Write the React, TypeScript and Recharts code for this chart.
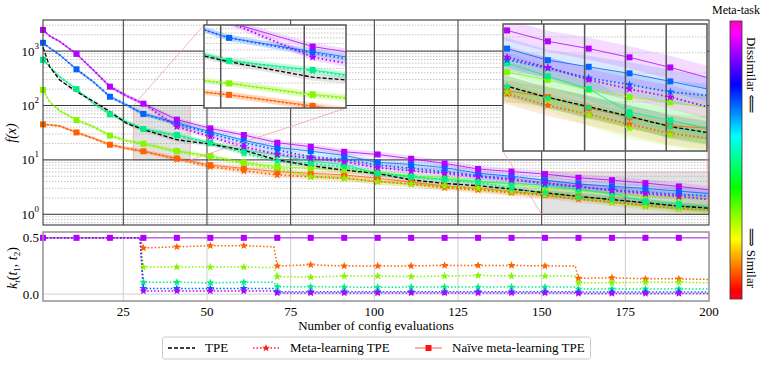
import React from "react";
import {
  Area,
  CartesianGrid,
  ComposedChart,
  Line,
  ReferenceArea,
  ReferenceLine,
  XAxis,
  YAxis,
} from "recharts";

const FONT = "Liberation Serif, DejaVu Serif, serif";

// ---- top panel: best f(x) so far, read at these evaluation counts ----
const X_MAIN = [1, 3, 6, 11, 16, 21, 26, 31, 41, 51, 61, 71, 81, 91, 101, 111, 121, 131, 141, 151, 161, 171, 181, 191, 200];

const TPE = [1180, 515, 294, 180, 120, 77, 47, 36, 23.5, 19.5, 15, 10, 7.8, 6.5, 5.6, 4.3, 3.7, 3.35, 2.92, 2.49, 2.13, 1.87, 1.63, 1.41, 1.3];

const NAIVE_PURPLE = [2450, 1900, 1500, 890, 450, 222, 150, 108, 55, 38, 28.7, 20.7, 17.5, 14.1, 12.6, 10.5, 8.6, 6.8, 6.1, 5.48, 4.7, 4.24, 3.75, 3.25, 2.82];
const META_PURPLE = [2450, 1900, 1500, 890, 450, 222, 150, 108, 41, 26.7, 17.5, 12.6, 10.7, 9.3, 7.2, 6.3, 5.66, 4.9, 4.3, 3.76, 3.25, 2.73, 2.4, 2.14, 1.87];
const NAIVE_BLUE = [1420, 1140, 850, 463, 273, 145, 102, 70, 47.7, 33, 23, 17, 14.5, 12.1, 9.0, 8.3, 7.2, 5.7, 5.0, 4.24, 3.6, 3.28, 2.99, 2.67, 2.4];
const META_BLUE = [1420, 1140, 850, 463, 273, 145, 102, 70, 46, 30.6, 20.7, 15.2, 11.4, 10.2, 8.0, 7.0, 6.1, 5.1, 4.5, 3.62, 3.22, 2.8, 2.55, 2.3, 2.19];
const NAIVE_SPRING = [690, 515, 337, 200, 110, 69, 50, 37, 28.7, 20.7, 15.2, 12.3, 9.5, 8.2, 5.6, 4.9, 4.4, 4.0, 3.7, 3.46, 2.87, 2.4, 1.73, 1.54, 1.38];
const META_SPRING = [690, 515, 337, 200, 110, 69, 50, 37, 28, 20.2, 13.2, 9.5, 8.6, 7.5, 5.66, 5.0, 4.27, 3.87, 3.0, 2.49, 2.11, 1.85, 1.63, 1.41, 1.28];
const NAIVE_LIME = [193, 117, 80, 54, 41, 28, 22.5, 19.8, 14.6, 11.8, 9.0, 7.5, 7.0, 6.5, 5.9, 5.05, 4.8, 3.97, 3.6, 3.04, 2.73, 2.37, 2.14, 1.99, 1.85];
const META_LIME = [193, 117, 80, 54, 41, 28, 22.5, 19.8, 14.2, 11.4, 8.6, 7.0, 4.9, 4.6, 4.0, 3.6, 3.3, 3.0, 2.6, 2.3, 2.05, 1.66, 1.38, 1.26, 1.12];
const NAIVE_ORANGE = [45, 44, 42, 32, 25, 19, 16.3, 14.4, 10.6, 8.0, 7.0, 6.1, 5.66, 5.3, 4.6, 3.9, 3.3, 3.0, 2.6, 2.34, 2.14, 1.83, 1.61, 1.43, 1.38];
const META_ORANGE = [45, 44, 42, 32, 25, 19, 16.3, 14.4, 10.4, 7.5, 6.3, 5.3, 4.9, 4.6, 4.0, 3.6, 3.1, 2.8, 2.5, 2.24, 1.9, 1.68, 1.46, 1.28, 1.2];

// multiplicative half-width of the shaded bands
const BAND = [1.03, 1.04, 1.05, 1.06, 1.07, 1.08, 1.08, 1.09, 1.1, 1.1, 1.11, 1.12, 1.12, 1.13, 1.13, 1.14, 1.14, 1.15, 1.15, 1.16, 1.16, 1.17, 1.17, 1.18, 1.18];

// ---- bottom panel: task kernel k_t(t1, t2) ----
const X_K = [1, 11, 21, 30, 31, 41, 51, 61, 70, 71, 81, 91, 101, 111, 121, 131, 141, 151, 160, 161, 171, 181, 191, 200];
const K_NAIVE = [0.5, 0.5, 0.5, 0.5, 0.5, 0.5, 0.5, 0.5, 0.5, 0.5, 0.5, 0.5, 0.5, 0.5, 0.5, 0.5, 0.5, 0.5, 0.5, 0.5, 0.5, 0.5, 0.5, 0.5];
const K_ORANGE = [0.5, 0.5, 0.5, 0.5, 0.41, 0.42, 0.43, 0.43, 0.42, 0.25, 0.26, 0.25, 0.25, 0.25, 0.255, 0.255, 0.255, 0.25, 0.25, 0.14, 0.145, 0.135, 0.135, 0.13];
const K_LIME = [0.5, 0.5, 0.5, 0.5, 0.24, 0.24, 0.24, 0.24, 0.235, 0.155, 0.15, 0.16, 0.16, 0.155, 0.16, 0.165, 0.16, 0.16, 0.16, 0.1, 0.1, 0.105, 0.105, 0.1];
const K_SPRING = [0.5, 0.5, 0.5, 0.5, 0.105, 0.105, 0.1, 0.105, 0.105, 0.065, 0.065, 0.062, 0.06, 0.062, 0.062, 0.062, 0.062, 0.062, 0.062, 0.045, 0.045, 0.045, 0.045, 0.045];
const K_BLUE = [0.5, 0.5, 0.5, 0.5, 0.05, 0.05, 0.05, 0.05, 0.05, 0.02, 0.02, 0.02, 0.02, 0.02, 0.02, 0.02, 0.02, 0.02, 0.02, 0.018, 0.018, 0.018, 0.018, 0.018];
const K_PURPLE = [0.5, 0.5, 0.5, 0.5, 0.028, 0.028, 0.028, 0.028, 0.028, 0.01, 0.01, 0.01, 0.01, 0.01, 0.01, 0.01, 0.01, 0.01, 0.01, 0.005, 0.005, 0.005, 0.005, 0.005];

const X_TICKS = [25, 50, 75, 100, 125, 150, 175, 200];
const MAIN_Y_TICKS = [0.7, 0.8, 0.9, 1, 2, 3, 4, 5, 6, 7, 8, 9, 10, 20, 30, 40, 50, 60, 70, 80, 90, 100, 200, 300, 400, 500, 600, 700, 800, 900, 1000, 2000, 3000];
const DECADES = [1, 10, 100, 1000];

// meta-tasks, from similar (orange) to dissimilar (purple)
const META = [
  { id: "orange", color: "#ff6100", naive: NAIVE_ORANGE, meta: META_ORANGE, k: K_ORANGE },
  { id: "lime", color: "#86f500", naive: NAIVE_LIME, meta: META_LIME, k: K_LIME },
  { id: "spring", color: "#00ee88", naive: NAIVE_SPRING, meta: META_SPRING, k: K_SPRING },
  { id: "blue", color: "#0064ff", naive: NAIVE_BLUE, meta: META_BLUE, k: K_BLUE },
  { id: "purple", color: "#b300ff", naive: NAIVE_PURPLE, meta: META_PURPLE, k: K_PURPLE },
];

const mainRows = X_MAIN.map((x, i) => {
  const row: Record<string, any> = { x, tpe: TPE[i], tpeBand: [TPE[i] / BAND[i], TPE[i] * BAND[i]] };
  META.forEach((m) => {
    row[`n_${m.id}`] = m.naive[i];
    row[`m_${m.id}`] = m.meta[i];
    row[`nb_${m.id}`] = [m.naive[i] / BAND[i], m.naive[i] * BAND[i]];
    row[`mb_${m.id}`] = [m.meta[i] / BAND[i], m.meta[i] * BAND[i]];
  });
  return row;
});

const kRows = X_K.map((x, i) => {
  const row: Record<string, any> = { x, naive: K_NAIVE[i] };
  META.forEach((m) => {
    row[`k_${m.id}`] = m.k[i];
  });
  return row;
});

// layout
const PLOT_L = 43;
const PLOT_R = 709;
const MAIN_TOP = 20;
const MAIN_BOT = 225;
const Y_MIN = 0.636;
const Y_MAX = 3730;
const K_TOP = 232;
const K_BOT = 301;

const INSETS = [
  { left: 204, top: 25, width: 142, height: 83, x: [28, 45], y: [10, 100], v: [30, 40], h: [20, 30, 40, 50, 60, 70, 80, 90] },
  { left: 503, top: 24, width: 204, height: 127, x: [150, 200], y: [1, 6], v: [160, 170, 180, 190], h: [2, 3, 4, 5] },
];

const px = (x: number) => PLOT_L + ((x - 1) / 199) * (PLOT_R - PLOT_L);
const py = (v: number) =>
  MAIN_TOP + ((Math.log10(Y_MAX) - Math.log10(v)) / (Math.log10(Y_MAX) - Math.log10(Y_MIN))) * (MAIN_BOT - MAIN_TOP);

function starPoints(cx: number, cy: number, R: number) {
  const pts: string[] = [];
  for (let i = 0; i < 10; i++) {
    const a = -Math.PI / 2 + (i * Math.PI) / 5;
    const r = i % 2 === 0 ? R : R * 0.42;
    pts.push(`${cx + r * Math.cos(a)},${cy + r * Math.sin(a)}`);
  }
  return pts.join(" ");
}

function squareDot(color: string, minX = 1, size = 6) {
  return (p: any) => {
    const { cx, cy, payload, index } = p;
    const key = `sq-${color}-${index}`;
    if (cx == null || cy == null || payload.x % 10 !== 1 || payload.x < minX) return <g key={key} />;
    return <rect key={key} x={cx - size / 2} y={cy - size / 2} width={size} height={size} fill={color} />;
  };
}

function starDot(color: string, minX: number, R = 4.4) {
  return (p: any) => {
    const { cx, cy, payload, index } = p;
    const key = `st-${color}-${index}`;
    if (cx == null || cy == null || payload.x % 10 !== 1 || payload.x < minX) return <g key={key} />;
    return <polygon key={key} points={starPoints(cx, cy, R)} fill={color} />;
  };
}

function mainSeries() {
  const els: React.ReactElement[] = [];
  META.forEach((m) => {
    els.push(
      <Area key={`nb-${m.id}`} dataKey={`nb_${m.id}`} stroke="none" fill={m.color} fillOpacity={0.14} isAnimationActive={false} activeDot={false} />,
      <Area key={`mb-${m.id}`} dataKey={`mb_${m.id}`} stroke="none" fill={m.color} fillOpacity={0.14} isAnimationActive={false} activeDot={false} />
    );
  });
  els.push(
    <Area key="tb" dataKey="tpeBand" stroke="none" fill="#777" fillOpacity={0.2} isAnimationActive={false} activeDot={false} />
  );
  META.forEach((m) => {
    els.push(
      <Line key={`n-${m.id}`} dataKey={`n_${m.id}`} stroke={m.color} strokeOpacity={0.8} strokeWidth={1} dot={squareDot(m.color)} activeDot={false} isAnimationActive={false} />,
      <Line key={`m-${m.id}`} dataKey={`m_${m.id}`} stroke={m.color} strokeWidth={1.8} strokeDasharray="1.5 2.5" dot={starDot(m.color, 41)} activeDot={false} isAnimationActive={false} />
    );
  });
  els.push(
    <Line key="tpe" dataKey="tpe" stroke="#000" strokeWidth={1.3} strokeDasharray="4 2" dot={false} activeDot={false} isAnimationActive={false} />
  );
  return els;
}

const PowerTick = (p: any) => {
  const { x, y, payload } = p;
  const e = Math.log10(payload.value);
  if (Math.abs(e - Math.round(e)) > 1e-6) return <g />;
  return (
    <text x={x} y={y} dy={4.5} textAnchor="end" fontSize={13} style={{ fontFamily: FONT }} fill="#000">
      10
      <tspan dy={-7} fontSize={9}>
        {Math.round(e)}
      </tspan>
    </text>
  );
};

function MainChart() {
  return (
    <ComposedChart width={764} height={230} data={mainRows} margin={{ top: MAIN_TOP, right: 764 - PLOT_R, bottom: 5, left: 5 }}>
      <CartesianGrid vertical={false} stroke="#c4c4c4" strokeDasharray="1.5 1.5" />
      <XAxis type="number" dataKey="x" domain={[1, 200]} hide />
      <YAxis
        type="number"
        scale="log"
        domain={[Y_MIN, Y_MAX]}
        allowDataOverflow
        ticks={MAIN_Y_TICKS}
        interval={0}
        width={38}
        tickLine={false}
        axisLine={false}
        tickSize={0}
        tickMargin={4}
        tick={(p: any) => <PowerTick {...p} />}
      />
      {X_TICKS.slice(0, -1).map((t) => (
        <ReferenceLine key={`v${t}`} x={t} stroke="#3a3a3a" strokeWidth={1} />
      ))}
      {DECADES.map((d) => (
        <ReferenceLine key={`h${d}`} y={d} stroke="#3a3a3a" strokeWidth={1} />
      ))}
      {INSETS.map((s, i) => (
        <ReferenceArea key={`ra${i}`} x1={s.x[0]} x2={s.x[1]} y1={s.y[0]} y2={s.y[1]} fill="#a0a0a0" fillOpacity={0.3} stroke="#f3a3a3" strokeWidth={0.8} />
      ))}
      {mainSeries()}
    </ComposedChart>
  );
}

function InsetChart({ s }: { s: (typeof INSETS)[number] }) {
  return (
    <div style={{ position: "absolute", left: s.left, top: s.top, width: s.width, height: s.height, background: "#fff" }}>
      <ComposedChart width={s.width} height={s.height} data={mainRows} margin={{ top: 0, right: 0, bottom: 0, left: 0 }}>
        <XAxis type="number" dataKey="x" domain={s.x} allowDataOverflow hide />
        <YAxis type="number" scale="log" domain={s.y} allowDataOverflow hide />
        {s.h.map((t) => (
          <ReferenceLine key={`h${t}`} y={t} stroke="#c4c4c4" strokeDasharray="1.5 1.5" />
        ))}
        {s.v.map((t) => (
          <ReferenceLine key={`v${t}`} x={t} stroke="#555" strokeWidth={1.5} />
        ))}
        {mainSeries()}
      </ComposedChart>
    </div>
  );
}

const axisText = { fontSize: 13, fill: "#000", style: { fontFamily: FONT } };

function KernelChart() {
  return (
    <ComposedChart width={764} height={110} data={kRows} margin={{ top: K_TOP - 226, right: 764 - PLOT_R, bottom: 0, left: 5 }}>
      <CartesianGrid stroke="#cfcfcf" strokeWidth={1} />
      <XAxis
        type="number"
        dataKey="x"
        domain={[1, 200]}
        ticks={X_TICKS}
        interval={0}
        height={336 - K_BOT}
        tickLine={false}
        axisLine={false}
        tickSize={0}
        tickMargin={6}
        tick={axisText}
      />
      <YAxis
        type="number"
        domain={[-0.062, 0.552]}
        allowDataOverflow
        ticks={[0, 0.5]}
        interval={0}
        width={38}
        tickLine={false}
        axisLine={false}
        tickSize={0}
        tickMargin={4}
        tickFormatter={(v: number) => v.toFixed(1)}
        tick={axisText}
      />
      {META.map((m) => (
        <Line key={`k-${m.id}`} dataKey={`k_${m.id}`} stroke={m.color} strokeWidth={1.5} strokeDasharray="1.5 2" dot={starDot(m.color, 31, 4.2)} activeDot={false} isAnimationActive={false} />
      ))}
      <Line dataKey="naive" stroke="#b300ff" strokeOpacity={0.85} strokeWidth={1} dot={squareDot("#b300ff")} activeDot={false} isAnimationActive={false} />
    </ComposedChart>
  );
}

function Overlay() {
  const pink = "#f3a3a3";
  const [a, b] = INSETS;
  return (
    <svg width={764} height={365} style={{ position: "absolute", left: 0, top: 0, pointerEvents: "none", fontFamily: FONT }}>
      <defs>
        <linearGradient id="cbar" x1="0" y1="0" x2="0" y2="1">
          <stop offset="0%" stopColor="#ff00bf" />
          <stop offset="4.6%" stopColor="#ff00ff" />
          <stop offset="23%" stopColor="#0000ff" />
          <stop offset="41.4%" stopColor="#00ffff" />
          <stop offset="60%" stopColor="#00ff00" />
          <stop offset="78.5%" stopColor="#ffff00" />
          <stop offset="97%" stopColor="#ff0000" />
          <stop offset="100%" stopColor="#ff0029" />
        </linearGradient>
      </defs>

      {/* inset connectors */}
      <line x1={px(a.x[0])} y1={py(a.y[1])} x2={a.left} y2={a.top} stroke={pink} strokeWidth={0.8} />
      <line x1={px(a.x[1])} y1={py(a.y[0])} x2={a.left + a.width} y2={a.top + a.height} stroke={pink} strokeWidth={0.8} />
      <line x1={px(b.x[0])} y1={py(b.y[0])} x2={b.left} y2={b.top + b.height} stroke={pink} strokeWidth={0.8} />
      <line x1={px(b.x[1])} y1={py(b.y[0])} x2={b.left + b.width} y2={b.top + b.height} stroke={pink} strokeWidth={0.8} />

      {/* frames */}
      <rect x={PLOT_L} y={MAIN_TOP} width={PLOT_R - PLOT_L} height={MAIN_BOT - MAIN_TOP} fill="none" stroke="#333" strokeWidth={1} />
      <rect x={PLOT_L} y={K_TOP} width={PLOT_R - PLOT_L} height={K_BOT - K_TOP} fill="none" stroke="#9a9a9a" strokeWidth={1.5} />
      {INSETS.map((s, i) => (
        <rect key={i} x={s.left} y={s.top} width={s.width} height={s.height} fill="none" stroke="#555" strokeWidth={1.5} />
      ))}

      {/* axis titles */}
      <text x={(PLOT_L + PLOT_R) / 2} y={330} textAnchor="middle" fontSize={13} fill="#000">
        Number of config evaluations
      </text>
      <text transform="translate(16,133) rotate(-90)" textAnchor="middle" fontSize={14} fontStyle="italic" fill="#000">
        f(x)
      </text>
      <text transform="translate(17,268) rotate(-90)" textAnchor="middle" fontSize={14} fill="#000">
        <tspan fontStyle="italic">k</tspan>
        <tspan fontStyle="italic" fontSize={9} dy={3}>t</tspan>
        <tspan dy={-3}>(</tspan>
        <tspan fontStyle="italic">t</tspan>
        <tspan fontSize={9} dy={3}>1</tspan>
        <tspan dy={-3}>, </tspan>
        <tspan fontStyle="italic">t</tspan>
        <tspan fontSize={9} dy={3}>2</tspan>
        <tspan dy={-3}>)</tspan>
      </text>

      {/* colour bar */}
      <text x={736} y={14} textAnchor="middle" fontSize={12} fill="#000">
        Meta-task
      </text>
      <rect x={730} y={21} width={12} height={278} fill="url(#cbar)" stroke="#333" strokeWidth={0.8} />
      <text transform="translate(751,75) rotate(90)" textAnchor="middle" dominantBaseline="central" fontSize={13} fill="#000">
        Dissimilar ⟸
      </text>
      <text transform="translate(751,258) rotate(90)" textAnchor="middle" dominantBaseline="central" fontSize={13} fill="#000">
        ⟹ Similar
      </text>

      {/* legend */}
      <rect x={162.5} y={337} width={428} height={22} rx={2} fill="#fff" stroke="#cccccc" strokeWidth={1} />
      <line x1={168} x2={195} y1={348} y2={348} stroke="#000" strokeWidth={1.3} strokeDasharray="4 2" />
      <text x={205} y={352} fontSize={13} fill="#000">TPE</text>
      <line x1={253} x2={279} y1={348} y2={348} stroke="#ff2020" strokeWidth={1.6} strokeDasharray="1.5 2" />
      <polygon points={starPoints(266, 348, 4)} fill="#ff2020" />
      <text x={290} y={352} fontSize={13} fill="#000">Meta-learning TPE</text>
      <line x1={415} x2={442} y1={348} y2={348} stroke="#ff5a5a" strokeWidth={1} />
      <rect x={425.5} y={345} width={6} height={6} fill="#ff1010" />
      <text x={452} y={352} fontSize={13} fill="#000">Naïve meta-learning TPE</text>
    </svg>
  );
}

export default function App() {
  return (
    <div style={{ position: "fixed", left: 0, top: 0, width: 764, height: 365, background: "#fff", fontFamily: FONT }}>
      <div style={{ position: "absolute", left: 0, top: 0 }}>
        <MainChart />
      </div>
      {INSETS.map((s, i) => (
        <InsetChart key={i} s={s} />
      ))}
      <div style={{ position: "absolute", left: 0, top: 226 }}>
        <KernelChart />
      </div>
      <Overlay />
    </div>
  );
}
